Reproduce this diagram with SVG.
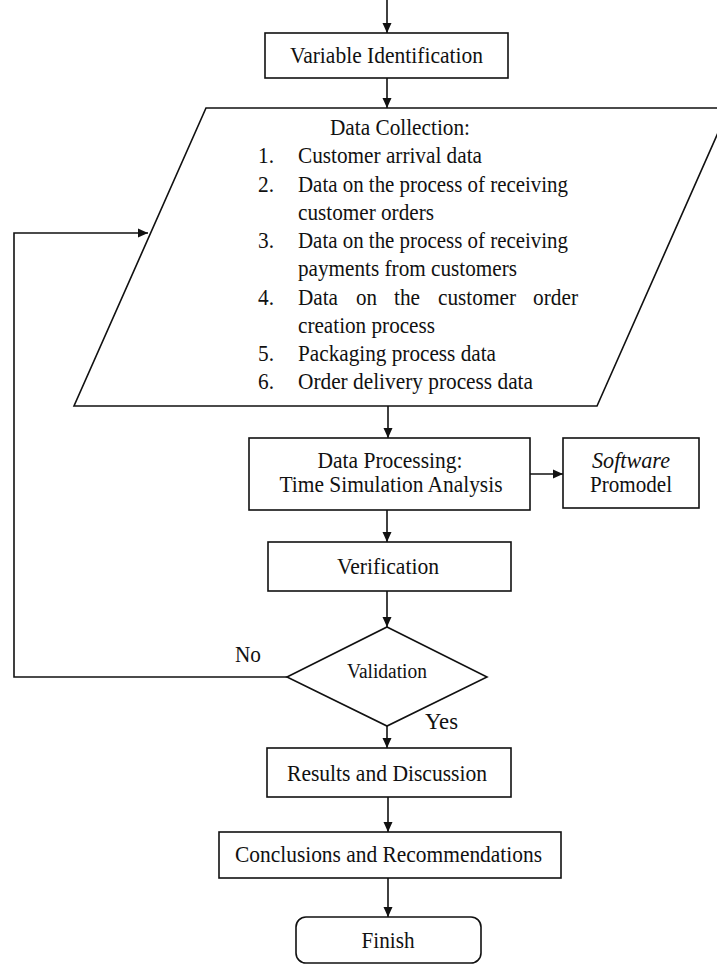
<svg xmlns="http://www.w3.org/2000/svg" width="717" height="964" viewBox="0 0 717 964">
<defs>
<style>
.box{fill:#fff;stroke:#111;stroke-width:1.6}
.ln{fill:none;stroke:#111;stroke-width:1.6}
text{font-family:"Liberation Serif","Times New Roman",serif;font-size:24px;fill:#111}
.c{text-anchor:middle}
.it{font-style:italic}
</style>
<marker id="ah" viewBox="0 0 10 10" refX="10" refY="5" markerWidth="10" markerHeight="10" markerUnits="userSpaceOnUse" orient="auto">
<path d="M0,0.5 L10,5 L0,9.5 z" fill="#111"/>
</marker>
</defs>
<rect width="717" height="964" fill="#fff"/>

<g id="connectors">
<line class="ln" x1="387" y1="0" x2="387" y2="33" marker-end="url(#ah)"/>
<line class="ln" x1="387" y1="78" x2="387" y2="108" marker-end="url(#ah)"/>
<line class="ln" x1="388" y1="406" x2="388" y2="438" marker-end="url(#ah)"/>
<line class="ln" x1="530" y1="474" x2="563" y2="474" marker-end="url(#ah)"/>
<line class="ln" x1="387" y1="510" x2="387" y2="542" marker-end="url(#ah)"/>
<line class="ln" x1="387" y1="591" x2="387" y2="627" marker-end="url(#ah)"/>
<polyline class="ln" points="287,677 14,677 14,233 148,233" marker-end="url(#ah)"/>
<line class="ln" x1="387" y1="726" x2="387" y2="748" marker-end="url(#ah)"/>
<line class="ln" x1="388" y1="797" x2="388" y2="832" marker-end="url(#ah)"/>
<line class="ln" x1="388" y1="878" x2="388" y2="917" marker-end="url(#ah)"/>
<text x="235" y="662" textLength="26" lengthAdjust="spacingAndGlyphs">No</text>
<text x="425" y="729" textLength="33" lengthAdjust="spacingAndGlyphs">Yes</text>
</g>

<g id="variable-identification">
<rect class="box" x="265" y="33" width="243" height="45"/>
<text class="c" x="386.5" y="63" textLength="193" lengthAdjust="spacingAndGlyphs">Variable Identification</text>
</g>

<g id="data-collection">
<polygon class="box" points="206,108 729,108 597,406 74,406"/>
<text class="c" x="400" y="135" textLength="140" lengthAdjust="spacingAndGlyphs">Data Collection:</text>
<text x="258" y="163" textLength="16" lengthAdjust="spacingAndGlyphs">1.</text>
<text x="298" y="163" textLength="184" lengthAdjust="spacingAndGlyphs">Customer arrival data</text>
<text x="258" y="191.5" textLength="16" lengthAdjust="spacingAndGlyphs">2.</text>
<text x="298" y="191.5" textLength="270" lengthAdjust="spacingAndGlyphs">Data on the process of receiving</text>
<text x="298" y="219.5" textLength="136" lengthAdjust="spacingAndGlyphs">customer orders</text>
<text x="258" y="248" textLength="16" lengthAdjust="spacingAndGlyphs">3.</text>
<text x="298" y="248" textLength="270" lengthAdjust="spacingAndGlyphs">Data on the process of receiving</text>
<text x="298" y="276" textLength="219" lengthAdjust="spacingAndGlyphs">payments from customers</text>
<text x="258" y="304.5" textLength="16" lengthAdjust="spacingAndGlyphs">4.</text>
<text x="298" y="304.5" textLength="40" lengthAdjust="spacingAndGlyphs">Data</text>
<text x="356" y="304.5" textLength="21" lengthAdjust="spacingAndGlyphs">on</text>
<text x="394" y="304.5" textLength="26" lengthAdjust="spacingAndGlyphs">the</text>
<text x="438" y="304.5" textLength="78" lengthAdjust="spacingAndGlyphs">customer</text>
<text x="533" y="304.5" textLength="45" lengthAdjust="spacingAndGlyphs">order</text>
<text x="298" y="332.5" textLength="137" lengthAdjust="spacingAndGlyphs">creation process</text>
<text x="258" y="361" textLength="16" lengthAdjust="spacingAndGlyphs">5.</text>
<text x="298" y="361" textLength="198" lengthAdjust="spacingAndGlyphs">Packaging process data</text>
<text x="258" y="389" textLength="16" lengthAdjust="spacingAndGlyphs">6.</text>
<text x="298" y="389" textLength="235" lengthAdjust="spacingAndGlyphs">Order delivery process data</text>
</g>

<g id="data-processing">
<rect class="box" x="249" y="438" width="281" height="72"/>
<text class="c" x="390" y="468" textLength="145" lengthAdjust="spacingAndGlyphs">Data Processing:</text>
<text class="c" x="391" y="492" textLength="223" lengthAdjust="spacingAndGlyphs">Time Simulation Analysis</text>
</g>

<g id="software-promodel">
<rect class="box" x="563" y="438" width="136" height="70"/>
<text class="c it" x="631" y="468" textLength="78" lengthAdjust="spacingAndGlyphs">Software</text>
<text class="c" x="631" y="492" textLength="82" lengthAdjust="spacingAndGlyphs">Promodel</text>
</g>

<g id="verification">
<rect class="box" x="268" y="542" width="243" height="49"/>
<text class="c" x="388" y="574" textLength="102" lengthAdjust="spacingAndGlyphs">Verification</text>
</g>

<g id="validation">
<polygon class="box" points="387,627 487,677 387,726 287,677"/>
<text class="c" x="387" y="678" style="font-size:20px" textLength="80" lengthAdjust="spacingAndGlyphs">Validation</text>
</g>

<g id="results-discussion">
<rect class="box" x="267" y="748" width="244" height="49"/>
<text class="c" x="387" y="781" textLength="200" lengthAdjust="spacingAndGlyphs">Results and Discussion</text>
</g>

<g id="conclusions-recommendations">
<rect class="box" x="219" y="832" width="342" height="46"/>
<text class="c" x="388.5" y="862" textLength="307" lengthAdjust="spacingAndGlyphs">Conclusions and Recommendations</text>
</g>

<g id="finish">
<rect class="box" x="296" y="917" width="185" height="46" rx="10" ry="10"/>
<text class="c" x="388" y="948" textLength="53" lengthAdjust="spacingAndGlyphs">Finish</text>
</g>
</svg>
